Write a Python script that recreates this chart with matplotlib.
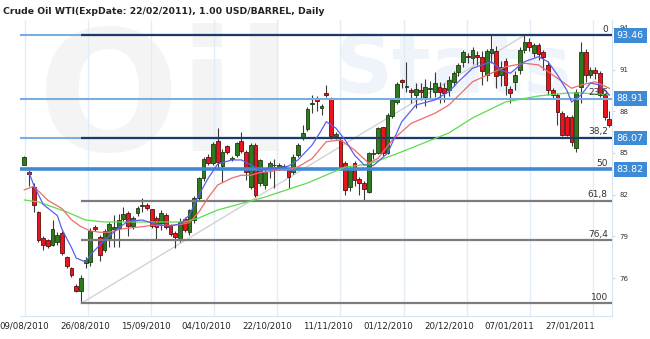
import matplotlib
matplotlib.use("Agg")
import matplotlib.pyplot as plt
import matplotlib.transforms as mtransforms
import numpy as np

# Candles, one per trading day (09/08/2010 ... 01/02/2011)
opens = [84.14, 83.6, 82.57, 80.78, 78.87, 78.74, 78.38, 78.58, 79.23, 77.54,
         76.71, 75.46, 75.08, 77.07, 77.19, 79.7, 78.94, 78.01, 78.87, 79.51,
         79.58, 80.25, 80.66, 79.75, 80.71, 81.2, 81.26, 80.95, 80.3, 79.99,
         80.54, 79.8, 79.27, 78.8, 80.23, 79.3, 80.18, 81.74, 83.2, 84.69,
         84.26, 85.86, 84.06, 85.5, 84.57, 84.85, 85.86, 85.09, 82.58, 85.57,
         82.82, 82.7, 83.9, 84.14, 83.97, 84.06, 83.78, 83.65, 84.85, 86.13,
         86.7, 88.5, 88.93, 88.21, 89.33, 88.86, 86.25, 85.93, 84.26, 82.58,
         84.26, 83.11, 82.86, 82.22, 84.93, 84.98, 86.85, 84.98, 87.66, 88.69,
         90.25, 89.75, 89.53, 89.2, 89.53, 89.05, 89.6, 89.41, 89.77, 89.7,
         89.53, 90.12, 90.84, 91.52, 91.99, 91.81, 92.04, 91.9, 90.6, 92.2,
         92.3, 90.6, 91.6, 89.6, 90.1, 90.97, 92.4, 93.0, 92.17, 92.76,
         92.28, 91.33, 89.53, 89.17, 87.85, 87.61, 87.61, 85.34, 89.77, 92.28,
         90.61, 90.97, 90.73, 89.17, 87.42]
highs = [84.8, 83.75, 82.84, 80.85, 79.0, 78.85, 80.18, 79.3, 79.4, 77.6,
         76.8, 75.6, 76.23, 77.5, 79.59, 79.8, 79.1, 79.5, 80.06, 80.54,
         80.6, 81.14, 80.8, 80.5, 81.2, 81.74, 81.4, 81.0, 80.5, 80.9,
         80.7, 79.9, 79.4, 80.3, 80.4, 81.0, 81.9, 83.3, 84.7, 84.9,
         85.8, 86.77, 85.3, 85.6, 84.8, 85.8, 86.53, 85.2, 85.7, 85.7,
         84.6, 83.9, 84.4, 84.6, 84.3, 84.2, 83.9, 84.9, 85.7, 87.01,
         88.3, 89.17, 89.1, 88.5, 89.89, 89.0, 86.5, 86.1, 84.4, 84.0,
         84.4, 83.3, 83.0, 85.1, 85.3, 86.9, 86.9, 87.9, 88.9, 90.1,
         90.35, 91.56, 89.7, 90.0, 90.0, 90.3, 90.2, 90.8, 90.1, 90.0,
         90.5, 90.9, 91.5, 92.4, 92.2, 92.6, 92.3, 92.3, 92.5, 93.5,
         92.7, 91.6, 91.8, 89.8, 90.9, 92.6, 93.46, 93.3, 92.9, 92.9,
         92.4, 91.6, 89.7, 89.3, 88.0, 87.7, 87.7, 89.6, 93.0, 92.5,
         91.2, 91.2, 90.9, 89.3, 88.0]
lows = [84.1, 82.6, 80.78, 78.6, 78.0, 78.2, 78.3, 78.4, 77.67, 76.71,
        76.1, 75.0, 74.18, 76.75, 76.9, 79.4, 77.26, 77.9, 78.26, 78.26,
        78.26, 80.1, 79.0, 79.5, 80.5, 80.78, 80.9, 79.59, 78.74, 79.46,
        79.5, 79.0, 78.17, 78.6, 79.3, 79.1, 80.0, 81.6, 83.0, 84.1,
        84.1, 83.78, 82.94, 84.9, 84.4, 84.7, 85.0, 83.06, 82.4, 81.86,
        82.6, 82.4, 83.2, 82.5, 83.8, 83.8, 82.5, 83.5, 84.7, 85.9,
        86.6, 87.85, 88.0, 87.73, 89.0, 86.0, 86.0, 83.9, 82.0, 82.3,
        82.6, 81.98, 81.62, 82.1, 84.6, 84.9, 84.8, 84.9, 87.5, 88.5,
        89.7, 89.4, 88.6, 88.2, 88.8, 88.4, 88.9, 89.0, 88.6, 88.7,
        89.1, 89.8, 90.5, 91.2, 91.5, 91.4, 91.3, 89.9, 90.2, 91.5,
        89.7, 89.8, 89.2, 88.6, 89.5, 90.7, 92.2, 92.3, 91.9, 91.7,
        91.0, 89.2, 88.9, 87.0, 86.2, 86.2, 85.5, 85.09, 88.57, 90.1,
        90.4, 90.3, 89.0, 87.4, 86.9]
closes = [84.71, 83.5, 81.26, 78.74, 78.38, 78.31, 79.51, 79.1, 77.83, 76.87,
          76.23, 75.08, 75.99, 77.31, 79.41, 79.51, 77.67, 79.39, 79.87, 79.66,
          80.18, 80.59, 79.75, 80.3, 81.02, 81.26, 81.02, 79.75, 79.7, 80.71,
          79.66, 79.2, 78.94, 80.06, 79.46, 80.9, 81.74, 83.2, 84.57, 84.26,
          85.62, 84.37, 85.09, 85.09, 84.6, 85.7, 85.14, 83.65, 85.57, 81.98,
          84.5, 83.65, 84.26, 84.1, 84.14, 84.0, 83.25, 84.73, 85.57, 86.41,
          88.16, 88.55, 88.76, 88.38, 89.17, 86.2, 86.35, 84.01, 82.34, 83.78,
          83.06, 82.86, 82.39, 84.98, 84.95, 86.77, 85.02, 87.73, 88.81, 89.96,
          90.08, 89.8, 89.41, 89.6, 89.41, 89.72, 89.65, 90.01, 89.41, 89.3,
          90.25, 90.73, 91.32, 92.28, 91.88, 92.4, 91.88, 90.9, 92.3, 92.5,
          90.5, 91.2, 89.9, 89.3, 90.6, 92.4, 93.0, 92.64, 92.76, 92.1,
          91.92, 89.53, 89.17, 87.97, 86.29, 86.29, 85.81, 89.41, 92.28, 90.61,
          90.97, 90.73, 89.17, 87.61, 87.01]

# moving averages (bar index, value)
ma_fast_idx = [1, 2, 4, 7, 8, 10, 11, 13, 14, 16, 18, 20, 22, 25, 27, 29, 31, 33, 35, 37,
               39, 41, 44, 46, 48, 50, 52, 54, 56, 58, 61, 63, 64, 66, 68, 70, 72, 74, 77, 80,
               83, 87, 90, 92, 95, 99, 101, 103, 106, 109, 111, 113, 115, 116, 118, 120, 122, 124]
ma_fast = [83.6, 82.7, 81.3, 80.5, 79.5, 78.2, 77.45, 77.16, 77.67, 78.38,
           79.03, 79.6, 80.1, 80.18, 79.97, 79.82, 79.75, 79.9, 80.54, 81.98,
           83.2, 84.21, 84.5, 84.5, 84.14, 83.78, 83.92, 83.92, 84.06, 84.5,
           85.57, 86.65, 87.25, 86.8, 85.93, 84.85, 84.14, 84.1, 84.98, 87.25,
           88.45, 88.81, 89.41, 90.12, 91.09, 91.56, 90.97, 90.73, 91.56, 91.92,
           91.56, 90.61, 89.5, 88.66, 89.17, 90.03, 89.89, 89.17]
ma_mid_idx = [0, 2, 5, 8, 10, 12, 14, 16, 18, 20, 22, 25, 27, 31, 33, 35, 37, 39, 41, 44,
              46, 48, 50, 52, 54, 56, 58, 61, 64, 67, 70, 73, 75, 78, 82, 87, 90, 95, 102, 106,
              109, 113, 116, 118, 121, 124]
ma_mid = [82.35, 82.6, 81.6, 81.0, 80.2, 79.7, 79.4, 79.3, 79.3, 79.5,
          79.6, 79.7, 79.8, 79.8, 79.85, 80.0, 80.75, 81.8, 82.7, 83.2,
          83.4, 83.4, 83.6, 83.65, 83.8, 83.8, 84.0, 84.6, 85.81, 85.93,
          85.21, 84.26, 84.62, 85.93, 87.13, 87.85, 88.45, 90.12, 91.2, 91.45,
          91.33, 90.37, 89.65, 89.89, 90.12, 89.65]
ma_slow_idx = [0, 3, 6, 9, 13, 17, 23, 30, 34, 37, 41, 51, 60, 68, 73, 79, 90, 95, 102, 109,
               115, 118, 124]
ma_slow = [81.62, 81.48, 81.12, 80.76, 80.18, 80.04, 80.04, 80.04, 80.04, 80.33,
           80.9, 81.83, 82.84, 83.99, 84.2, 84.95, 86.44, 87.52, 88.67, 89.1,
           89.31, 89.31, 89.17]

# fibonacci retracement (low bar 12 -> high bar 106)
fib_start, fib_end = 12, 106
fib_levels = [93.46, 88.91, 86.07, 83.82, 81.55, 78.73, 74.18]
fib_names = ["0", "23,6", "38,2", "50", "61,8", "76,4", "100"]
boxed = [93.46, 88.91, 86.07, 83.82]

date_labels = ["09/08/2010", "26/08/2010", "15/09/2010", "04/10/2010", "22/10/2010",
               "11/11/2010", "01/12/2010", "20/12/2010", "07/01/2011", "27/01/2011"]
y_ticks = [76, 79, 82, 85, 88, 91, 94]

title = "Crude Oil WTI(ExpDate: 22/02/2011), 1.00 USD/BARREL, Daily"

fig = plt.figure(figsize=(6.5, 3.39), dpi=100)
fig.patch.set_facecolor("white")
ax = fig.add_axes([20 / 650, 23 / 339, 592 / 650, 296 / 339])
ax.set_xlim(-0.91, 124.56)
ax.set_ylim(73.28, 94.56)

# watermark (faint)
ax.text(0.03, 0.99, "Oil", transform=ax.transAxes, fontsize=120, fontweight="bold",
        color="#f4f4f4", va="top", ha="left", zorder=0)
ax.text(0.53, 0.96, "Stats", transform=ax.transAxes, fontsize=58, fontweight="bold",
        color="#eef4fa", va="top", ha="left", zorder=0)

# vertical grid
for g in np.arange(10) * 13.37 + 0.15:
    ax.axvline(g, color="#e2ecf6", lw=1, zorder=0.5)

# trend line low -> high
ax.plot([fib_start, fib_end], [fib_levels[-1], fib_levels[0]], color="#d2d2d2", lw=1, zorder=1)

o = np.array(opens); c = np.array(closes)
h = np.array(highs); l = np.array(lows)
x = np.arange(len(o))
up = c >= o
bottom = np.minimum(o, c)
height = np.maximum(np.abs(c - o), 0.06)

ax.vlines(x, l, h, color="#3a3a3a", lw=0.8, zorder=3)
ax.bar(x[up], height[up], bottom=bottom[up], width=0.8, color="#2e7a1e",
       edgecolor="#1b3b10", lw=0.6, zorder=4)
ax.bar(x[~up], height[~up], bottom=bottom[~up], width=0.8, color="#ea141c",
       edgecolor="#5a1010", lw=0.6, zorder=4)

# fib / support lines
x0, x1 = ax.get_xlim()
for lev in boxed:
    lw = 2.6 if lev == 83.82 else 1.5
    col = "#3f8ad4" if lev == 83.82 else "#78aee0"
    ax.hlines(lev, x0, x1, color=col, lw=lw, zorder=5)
for lev, nm in zip(fib_levels, fib_names):
    if lev in (93.46, 86.07):
        ax.hlines(lev, fib_start, x1, color="#1c3a66", lw=1.6, zorder=5.5)
    elif lev not in boxed:
        ax.hlines(lev, fib_start, x1, color="#7c7c7c", lw=1.6, zorder=5.5)

ax.plot(ma_slow_idx, ma_slow, color="#5ddc4c", lw=0.9, zorder=6)
ax.plot(ma_mid_idx, ma_mid, color="#f06a6a", lw=0.9, zorder=6)
ax.plot(ma_fast_idx, ma_fast, color="#5b5ef0", lw=0.9, zorder=6)

tr = mtransforms.blended_transform_factory(ax.transAxes, ax.transData)
for lev, nm in zip(fib_levels, fib_names):
    ax.annotate(nm, xy=(1, lev), xycoords=tr, xytext=(-3, 1.2), textcoords="offset points",
                ha="right", va="bottom", fontsize=6.5, color="#333333", zorder=7)
for lev in boxed:
    ax.annotate("%.2f" % lev, xy=(1, lev), xycoords=tr, xytext=(3.5, 0),
                textcoords="offset points", ha="left", va="center", fontsize=6.8,
                color="white", annotation_clip=False, zorder=8,
                bbox=dict(boxstyle="square,pad=0.3", fc="#3d8ad6", ec="none"))

ax.yaxis.tick_right()
ax.set_yticks(y_ticks)
ax.set_yticklabels([str(v) for v in y_ticks])
ax.tick_params(axis="y", labelsize=5, colors="#333333", length=2.5, pad=3)
ax.tick_params(axis="y", color="#c8d8ea")

ax.set_xticks(np.arange(10) * 12.86)
ax.set_xticklabels(date_labels)
ax.tick_params(axis="x", labelsize=6.2, colors="#222222", length=0, pad=4)

for s in ["top", "left"]:
    ax.spines[s].set_visible(False)
for s in ["right", "bottom"]:
    ax.spines[s].set_color("#d6e4f2")

fig.text(3 / 650, 1 - 12 / 339, title, fontsize=6.7, fontweight="bold", color="#222222",
         ha="left", va="center")

fig.savefig("out.png", dpi=100)
